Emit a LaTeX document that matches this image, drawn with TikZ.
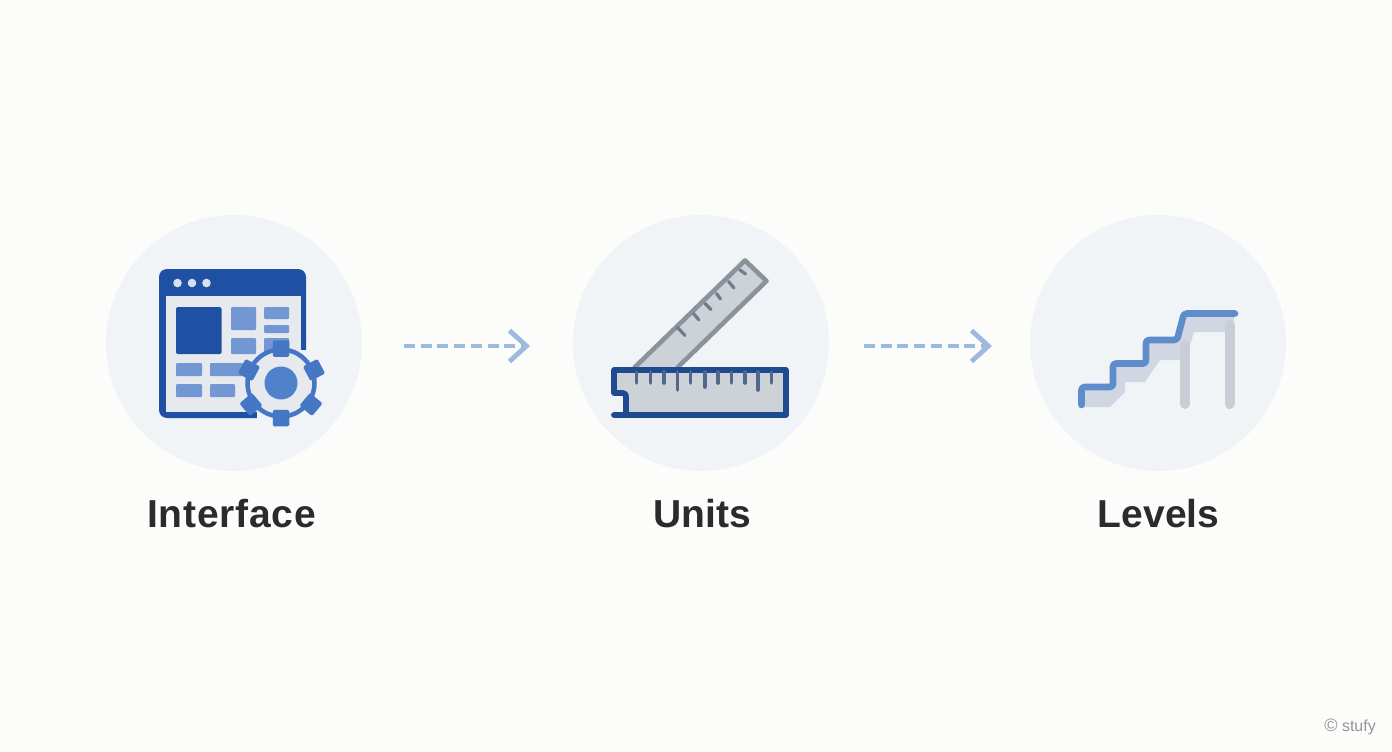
\documentclass[tikz,border=0pt]{standalone}
\usepackage{fontspec}
\setmainfont{Liberation Sans}
\usetikzlibrary{arrows.meta,calc}
\definecolor{bgc}{HTML}{FCFCFB}
\definecolor{disc}{HTML}{F1F4F7}
\definecolor{navy}{HTML}{1F50A3}
\definecolor{rulnavy}{HTML}{1E4A90}
\definecolor{pane}{HTML}{E6E9EE}
\definecolor{tile}{HTML}{7397D3}
\definecolor{gearc}{HTML}{4577C4}
\definecolor{hubc}{HTML}{5082CB}
\definecolor{dotc}{HTML}{D5E0F0}
\definecolor{rulgray}{HTML}{8B929C}
\definecolor{rulfill}{HTML}{CDD2D9}
\definecolor{tickc}{HTML}{50688C}
\definecolor{tickg}{HTML}{737B87}
\definecolor{stairc}{HTML}{5F8CCB}
\definecolor{stairf}{HTML}{D1D7E2}
\definecolor{legc}{HTML}{C9CED6}
\definecolor{arrc}{HTML}{9DB9DE}
\definecolor{labc}{HTML}{2B2B2B}
\tikzset{
  discnode/.style={circle,fill=disc,draw=none,minimum size=256pt,inner sep=0pt},
  lab/.style={font=\fontsize{39}{43}\selectfont\bfseries,text=labc,inner sep=0pt,anchor=base},
  flow/.style={draw=arrc,line width=4.8pt,dash pattern=on 11pt off 5.7pt,
    -{Straight Barb[length=17pt,width=31pt,line width=4.8pt]}},
  tile/.style={fill=tile,draw=none,rounded corners=1pt},
  tooth/.style={fill=gearc,draw=none,rounded corners=1.5pt,minimum size=16.5pt,inner sep=0pt},
  rtick/.style={draw=tickc,line width=3.6pt,line cap=round},
  dtick/.style={draw=tickg,line width=3.2pt,line cap=round},
}
\begin{document}
\begin{tikzpicture}[x=1pt,y=-1pt]
\path[fill=bgc] (0,0) rectangle (1392,752);
\useasboundingbox (0,0) rectangle (1392,752);
\node[discnode] (c1) at (234,343) {};
\node[discnode] (c2) at (701,343) {};
\node[discnode] (c3) at (1158,343) {};
\node[lab] (l1) at (231.5,527) {\addfontfeature{LetterSpace=2}Interface};
\node[lab] (l2) at (702,527) {Units};
\node[lab] (l3) at (1158.5,527) {Levels};
% arrows
\coordinate (a1s) at (404,346);
\coordinate (a1e) at (530,346);
\coordinate (a2s) at (864,346);
\coordinate (a2e) at (992,346);
\draw[flow] (a1s) -- (a1e);
\draw[flow] (a2s) -- (a2e);
% window
\fill[navy,rounded corners=8pt] (159,269) rectangle (306,418);
\fill[pane] (166,296) rectangle (300.5,412);
\foreach \x in {177.5,192,206.5} \fill[dotc] (\x,283) circle (4.3);
\fill[navy,rounded corners=1.5pt] (176,307) rectangle (221.5,354);
\fill[tile] (231,307) rectangle (256,330);
\fill[tile] (231,338) rectangle (256,354);
\fill[tile] (264,307) rectangle (289,319);
\fill[tile] (264,325) rectangle (289,333);
\fill[tile] (264,338) rectangle (289,354);
\fill[tile] (176,363) rectangle (202,376);
\fill[tile] (210,363) rectangle (245,376);
\fill[tile] (176,384) rectangle (202,397);
\fill[tile] (210,384) rectangle (235,397);
% lower right corner of the window, hidden behind the gear
\fill[disc] (300.5,350) -- (307,350) -- (307,419) -- (257,419) -- (257,412) -- (280,412) -- (300.5,385) -- cycle;
% gear
\draw[gearc,line width=4.5pt,fill=pane] (281,383) circle (33.5);
\fill[hubc] (281,383) circle (16.5);
\node[tooth] (t1) at (281,348.5) {};
\node[tooth] (t2) at (281,418) {};
\node[tooth,rotate=28] (t3) at (314,370) {};
\node[tooth,rotate=-28] (t4) at (249,370) {};
\node[tooth,rotate=40] (t5) at (251,404.5) {};
\node[tooth,rotate=-40] (t6) at (311,404.5) {};
% diagonal ruler
\draw[rulgray,fill=rulfill,line width=4.6pt,line join=round]
  (634,368) -- (745,260.5) -- (766.5,281) -- (677,368);
\foreach \a/\b/\c/\d in {677.5/327.5/685/335.5,693.5/313.5/699/320,705/303.5/711/309.5,716.5/293.5/720.5/299,728.5/281.5/734/288,740/270/745.5/274}
  \draw[dtick] (\a,\b) -- (\c,\d);
% horizontal ruler
\draw[rulnavy,fill=rulfill,line width=5.8pt,line join=round,line cap=round]
  (614,415) -- (786,415) -- (786,370) -- (614,370) -- (614,393) -- (623,393)
  .. controls (626,393) and (626,395) .. (626,398) -- (626,415);
\foreach \x/\y in {636.5/383,650.5/383,664/383,677.5/390,690.5/383,705/387,718/383,731.5/383,745/383,758/390,771.5/383}
  \draw[rtick] (\x,372) -- (\x,\y);
% stairs
\fill[stairf] (1082,386) -- (1113,386) -- (1113,363) -- (1146,363) -- (1146,340) -- (1177,340) -- (1184,313) -- (1234,313)
  -- (1234,332) -- (1194,332) -- (1190,345) -- (1182,360) -- (1160,360) -- (1145,382) -- (1125,382) -- (1125,392) -- (1110,407) -- (1082,407) -- cycle;
\draw[legc,line width=10pt,line cap=round] (1185,345) -- (1185,404);
\draw[legc,line width=10pt,line cap=round] (1229.5,325) -- (1229.5,404);
\draw[stairc,line width=6.6pt,line cap=round,line join=round,rounded corners=3pt]
  (1081.5,405) -- (1081.5,387) -- (1113,387) -- (1113,363.5) -- (1146,363.5) -- (1146,340) -- (1177,340) -- (1184,313.5) -- (1235,313.5);
% watermark
\node[font=\fontsize{16}{18}\selectfont,text=black!42,inner sep=0pt,anchor=east] (wm) at (1376,727) {{\fontsize{18}{18}\selectfont ©} stufy};
\end{tikzpicture}
\end{document}
